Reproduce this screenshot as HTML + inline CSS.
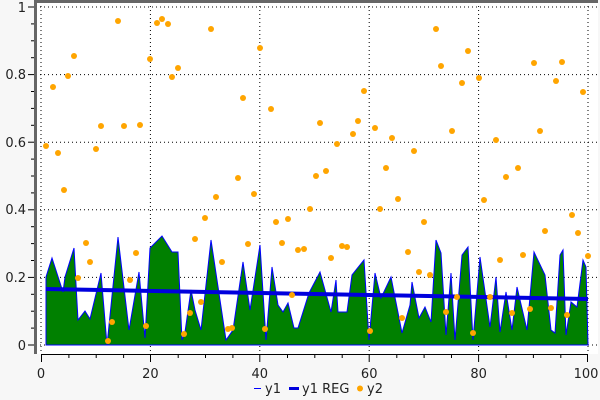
<!DOCTYPE html>
<html><head><meta charset="utf-8"><style>
html,body{margin:0;padding:0;background:#f7f7f7;}
svg{display:block;font-family:"DejaVu Sans","Liberation Sans",sans-serif;}
</style></head><body>
<svg width="600" height="400" viewBox="0 0 600 400">
<rect x="0" y="0" width="600" height="400" fill="#f7f7f7"/>
<rect x="36" y="2" width="562" height="352" fill="#fff"/>
<g stroke="#000" stroke-width="1" stroke-dasharray="1,3">
<line x1="36" y1="7" x2="598" y2="7"/><line x1="36" y1="74.6" x2="598" y2="74.6"/><line x1="36" y1="142.2" x2="598" y2="142.2"/><line x1="36" y1="209.8" x2="598" y2="209.8"/><line x1="36" y1="277.4" x2="598" y2="277.4"/><line x1="36" y1="345" x2="598" y2="345"/>
<line x1="41" y1="2" x2="41" y2="354"/><line x1="150.4" y1="2" x2="150.4" y2="354"/><line x1="259.8" y1="2" x2="259.8" y2="354"/><line x1="369.2" y1="2" x2="369.2" y2="354"/><line x1="478.6" y1="2" x2="478.6" y2="354"/><line x1="588" y1="2" x2="588" y2="354"/>
</g>
<polygon fill="#008000" stroke="#0000ff" stroke-width="1" points="46,345 46,277 52,258 63,292 65,277 74,248 78,320 85,311 90,319 101,273 107,345 118,237 129,330 139,272 145,338 150,248 162,236 172,252 178,252 182,340 185,332 191,290 195,310 201,330 211,240 226,340 233,330 243,262 250,310 260,245 266,340 272,267 278,305 283,312 288,303 294,328 298,328 309,293 320,272 331,312 336,280 338,312 347,312 352,275 364,260 369,340 375,273 381,298 391,277 402,333 410,305 412,282 419,318 425,307 431,322 436,240 441,253 446,335 451,273 455,340 462,255 468,247 473,340 480,257 490,327 496,277 500,332 506,292 512,330 517,287 527,330 534,252 545,275 551,330 555,333 560,255 563,250 566,335 571,302 577,307 583,260 586,267 588,345"/>
<line x1="46" y1="289" x2="588" y2="299" stroke="#0000dd" stroke-width="4"/>
<g fill="#ffa500">
<circle cx="46" cy="146" r="3"/><circle cx="53" cy="87" r="3"/><circle cx="58" cy="153" r="3"/><circle cx="64" cy="190" r="3"/><circle cx="68" cy="76" r="3"/><circle cx="74" cy="56" r="3"/><circle cx="78" cy="278" r="3"/><circle cx="86" cy="243" r="3"/><circle cx="90" cy="262" r="3"/><circle cx="96" cy="149" r="3"/><circle cx="101" cy="126" r="3"/><circle cx="108" cy="341" r="3"/><circle cx="112" cy="322" r="3"/><circle cx="118" cy="21" r="3"/><circle cx="124" cy="126" r="3"/><circle cx="130" cy="280" r="3"/><circle cx="136" cy="253" r="3"/><circle cx="140" cy="125" r="3"/><circle cx="146" cy="326" r="3"/><circle cx="150" cy="59" r="3"/><circle cx="157" cy="23" r="3"/><circle cx="162" cy="19" r="3"/><circle cx="168" cy="24" r="3"/><circle cx="172" cy="77" r="3"/><circle cx="178" cy="68" r="3"/><circle cx="184" cy="334" r="3"/><circle cx="190" cy="313" r="3"/><circle cx="195" cy="239" r="3"/><circle cx="201" cy="302" r="3"/><circle cx="205" cy="218" r="3"/><circle cx="211" cy="29" r="3"/><circle cx="216" cy="197" r="3"/><circle cx="222" cy="262" r="3"/><circle cx="228" cy="329" r="3"/><circle cx="232" cy="328" r="3"/><circle cx="238" cy="178" r="3"/><circle cx="243" cy="98" r="3"/><circle cx="248" cy="244" r="3"/><circle cx="254" cy="194" r="3"/><circle cx="260" cy="48" r="3"/><circle cx="265" cy="329" r="3"/><circle cx="271" cy="109" r="3"/><circle cx="276" cy="222" r="3"/><circle cx="282" cy="243" r="3"/><circle cx="288" cy="219" r="3"/><circle cx="292" cy="295" r="3"/><circle cx="298" cy="250" r="3"/><circle cx="304" cy="249" r="3"/><circle cx="310" cy="209" r="3"/><circle cx="316" cy="176" r="3"/><circle cx="320" cy="123" r="3"/><circle cx="326" cy="171" r="3"/><circle cx="331" cy="258" r="3"/><circle cx="337" cy="144" r="3"/><circle cx="342" cy="246" r="3"/><circle cx="347" cy="247" r="3"/><circle cx="353" cy="134" r="3"/><circle cx="358" cy="121" r="3"/><circle cx="364" cy="91" r="3"/><circle cx="370" cy="331" r="3"/><circle cx="375" cy="128" r="3"/><circle cx="380" cy="209" r="3"/><circle cx="386" cy="168" r="3"/><circle cx="392" cy="138" r="3"/><circle cx="398" cy="199" r="3"/><circle cx="402" cy="318" r="3"/><circle cx="408" cy="252" r="3"/><circle cx="414" cy="151" r="3"/><circle cx="419" cy="272" r="3"/><circle cx="424" cy="222" r="3"/><circle cx="430" cy="275" r="3"/><circle cx="436" cy="29" r="3"/><circle cx="441" cy="66" r="3"/><circle cx="446" cy="312" r="3"/><circle cx="452" cy="131" r="3"/><circle cx="457" cy="297" r="3"/><circle cx="462" cy="83" r="3"/><circle cx="468" cy="51" r="3"/><circle cx="473" cy="333" r="3"/><circle cx="479" cy="78" r="3"/><circle cx="484" cy="200" r="3"/><circle cx="490" cy="297" r="3"/><circle cx="496" cy="140" r="3"/><circle cx="500" cy="260" r="3"/><circle cx="506" cy="177" r="3"/><circle cx="512" cy="313" r="3"/><circle cx="518" cy="168" r="3"/><circle cx="523" cy="255" r="3"/><circle cx="530" cy="309" r="3"/><circle cx="534" cy="63" r="3"/><circle cx="540" cy="131" r="3"/><circle cx="545" cy="231" r="3"/><circle cx="551" cy="308" r="3"/><circle cx="556" cy="81" r="3"/><circle cx="562" cy="62" r="3"/><circle cx="567" cy="315" r="3"/><circle cx="572" cy="215" r="3"/><circle cx="578" cy="233" r="3"/><circle cx="583" cy="92" r="3"/><circle cx="588" cy="256" r="3"/>
</g>
<line x1="36" y1="1.5" x2="598" y2="1.5" stroke="#666" stroke-width="3"/>
<line x1="35.5" y1="0" x2="35.5" y2="354" stroke="#666" stroke-width="3"/>
<g stroke="#000" stroke-width="1">
<line x1="28" y1="7" x2="34" y2="7"/><line x1="31" y1="23.9" x2="34" y2="23.9"/><line x1="31" y1="40.8" x2="34" y2="40.8"/><line x1="31" y1="57.7" x2="34" y2="57.7"/><line x1="28" y1="74.6" x2="34" y2="74.6"/><line x1="31" y1="91.5" x2="34" y2="91.5"/><line x1="31" y1="108.4" x2="34" y2="108.4"/><line x1="31" y1="125.3" x2="34" y2="125.3"/><line x1="28" y1="142.2" x2="34" y2="142.2"/><line x1="31" y1="159.1" x2="34" y2="159.1"/><line x1="31" y1="176" x2="34" y2="176"/><line x1="31" y1="192.9" x2="34" y2="192.9"/><line x1="28" y1="209.8" x2="34" y2="209.8"/><line x1="31" y1="226.7" x2="34" y2="226.7"/><line x1="31" y1="243.6" x2="34" y2="243.6"/><line x1="31" y1="260.5" x2="34" y2="260.5"/><line x1="28" y1="277.4" x2="34" y2="277.4"/><line x1="31" y1="294.3" x2="34" y2="294.3"/><line x1="31" y1="311.2" x2="34" y2="311.2"/><line x1="31" y1="328.1" x2="34" y2="328.1"/><line x1="28" y1="345" x2="34" y2="345"/>
<line x1="41" y1="354.5" x2="588" y2="354.5"/>
</g>
<path stroke="#000" stroke-width="1" d="M41.5 354v8M68.9 354v4M96.2 354v4M123.6 354v4M150.5 354v8M178.2 354v4M205.5 354v4M232.9 354v4M259.8 354v8M287.5 354v4M314.8 354v4M342.2 354v4M369.2 354v8M396.8 354v4M424.1 354v4M451.5 354v4M478.6 354v8M506.1 354v4M533.4 354v4M560.8 354v4M587.5 354v8"/>
<g font-size="13" fill="#222" text-anchor="end">
<text x="26" y="12">1</text><text x="26" y="79">0.8</text><text x="26" y="147">0.6</text><text x="26" y="214">0.4</text><text x="26" y="282">0.2</text><text x="26" y="350">0</text>
</g>
<g font-size="13" fill="#222" text-anchor="middle">
<text x="41" y="378">0</text><text x="150.4" y="378">20</text><text x="259.8" y="378">40</text><text x="369.2" y="378">60</text><text x="478.6" y="378">80</text><text x="586" y="378">100</text>
</g>
<line x1="254" y1="388.5" x2="261" y2="388.5" stroke="#0000ff" stroke-width="1"/>
<text x="265" y="393" font-size="13" fill="#222">y1</text>
<line x1="289" y1="388.5" x2="299" y2="388.5" stroke="#0000dd" stroke-width="3"/>
<text x="302" y="393" font-size="13" fill="#222">y1 REG</text>
<circle cx="360" cy="388.5" r="3" fill="#ffa500"/>
<text x="367" y="393" font-size="13" fill="#222">y2</text>
</svg>
</body></html>
